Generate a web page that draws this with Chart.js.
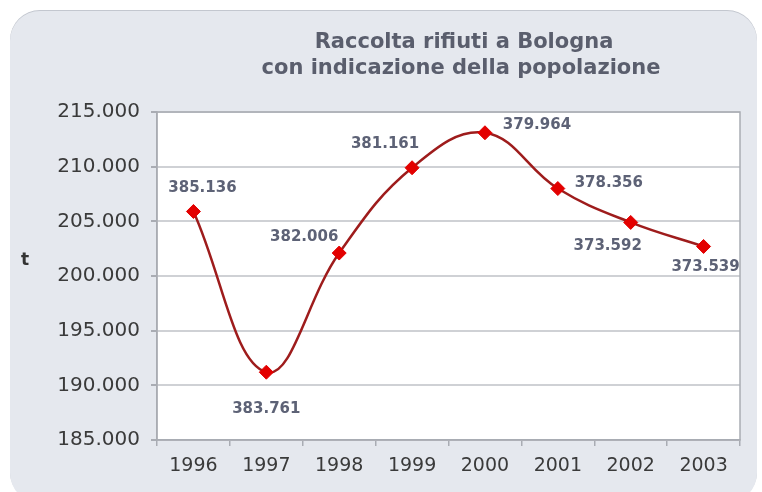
<!DOCTYPE html>
<html>
<head>
<meta charset="utf-8">
<script src="https://cdn.jsdelivr.net/npm/chart.js@4/dist/chart.umd.min.js"></script>
<style>
  html, body { margin: 0; padding: 0; background: #ffffff; width: 762px; height: 492px; overflow: hidden; }
  #panel { position: absolute; left: 10px; top: 11px; width: 747px; height: 492px;
           background: #e5e8ee; border-radius: 30px; box-shadow: 0 -1px 0 #c3c7cf; }
  #wrap { position: absolute; left: 0; top: 0; width: 762px; height: 492px; }
</style>
</head>
<body>
<div id="panel"></div>
<div id="wrap"><canvas id="c" width="762" height="492"></canvas></div>
<script>
// ---- data ----
const years = ['1996', '1997', '1998', '1999', '2000', '2001', '2002', '2003'];
const wasteTonnes = [205900, 191200, 202100, 209900, 213100, 208000, 204900, 202700];
const population = [385136, 383761, 382006, 381161, 379964, 378356, 373592, 373539];
const titleLines = ['Raccolta rifiuti a Bologna', 'con indicazione della popolazione'];
const yAxisLabel = 't';
const yMin = 185000, yMax = 215000, yStep = 5000;

// ---- styling / placement (not data) ----
const labelOffsets = [[9, -23], [0, 37], [-35, -16], [-27, -24], [52, -8], [51, -5], [-23, 24], [2, 21]];

function fmt(n) { return String(n).replace(/\B(?=(\d{3})+(?!\d))/g, '.'); }

const decor = {
  id: 'decor',
  beforeDraw(chart) {
    const ctx = chart.ctx;
    const ca = chart.chartArea;
    ctx.save();
    ctx.fillStyle = '#ffffff';
    ctx.fillRect(ca.left, ca.top, ca.right - ca.left, ca.bottom - ca.top);
    ctx.restore();
  },
  afterDatasetsDraw(chart) {
    const ctx = chart.ctx;
    const ca = chart.chartArea;
    ctx.save();
    // plot border
    ctx.strokeStyle = '#a9acb3';
    ctx.lineWidth = 1.5;
    ctx.strokeRect(ca.left, ca.top, ca.right - ca.left, ca.bottom - ca.top);
    // data labels
    const meta = chart.getDatasetMeta(0);
    ctx.font = 'bold 15px "DejaVu Sans"';
    ctx.fillStyle = '#5d6276';
    ctx.textAlign = 'center';
    ctx.textBaseline = 'middle';
    meta.data.forEach((pt, i) => {
      const o = labelOffsets[i];
      ctx.fillText(fmt(population[i]), pt.x + o[0], pt.y + o[1]);
    });
    ctx.restore();
  },
  afterDraw(chart) {
    const ctx = chart.ctx;
    ctx.save();
    ctx.fillStyle = '#5a5e6d';
    ctx.font = 'bold 21px "DejaVu Sans"';
    ctx.textAlign = 'center';
    ctx.textBaseline = 'alphabetic';
    ctx.fillText(titleLines[0], 464, 48);
    ctx.fillText(titleLines[1], 461, 74);
    ctx.fillStyle = '#333333';
    ctx.font = 'bold 17px "DejaVu Sans"';
    ctx.textBaseline = 'middle';
    ctx.fillText(yAxisLabel, 25, 261);
    ctx.restore();
  }
};

new Chart(document.getElementById('c'), {
  type: 'line',
  data: {
    labels: years,
    datasets: [{
      data: wasteTonnes,
      borderColor: '#9e1c1c',
      borderWidth: 2.5,
      tension: 0.4,
      pointStyle: 'rectRot',
      pointRadius: 7,
      pointHoverRadius: 7,
      pointBackgroundColor: '#e30000',
      pointBorderColor: '#e30000',
      pointBorderWidth: 1,
      fill: false
    }]
  },
  options: {
    responsive: false,
    animation: false,
    events: [],
    layout: { padding: { top: 112, right: 22, bottom: 0, left: 0 } },
    plugins: { legend: { display: false }, tooltip: { enabled: false }, title: { display: false } },
    scales: {
      x: {
        type: 'category',
        offset: true,
        afterFit(s) { s.height = 52; },
        grid: { offset: true, drawOnChartArea: false, color: '#a9acb3', tickLength: 6, lineWidth: 1.5 },
        border: { display: true, color: '#a9acb3', width: 1.5 },
        ticks: { color: '#3a3a3a', font: { family: 'DejaVu Sans', size: 19 }, padding: 9, maxRotation: 0 }
      },
      y: {
        min: yMin, max: yMax,
        afterFit(s) { s.width = 157; },
        grid: { color: '#cfd1d5', lineWidth: 2, tickColor: '#a9acb3', tickLength: 6 },
        border: { display: true, color: '#a9acb3', width: 1.5 },
        ticks: { stepSize: yStep, color: '#3a3a3a', font: { family: 'DejaVu Sans', size: 20 }, padding: 11,
                 callback: v => fmt(v) }
      }
    }
  },
  plugins: [decor]
});
</script>
</body>
</html>
